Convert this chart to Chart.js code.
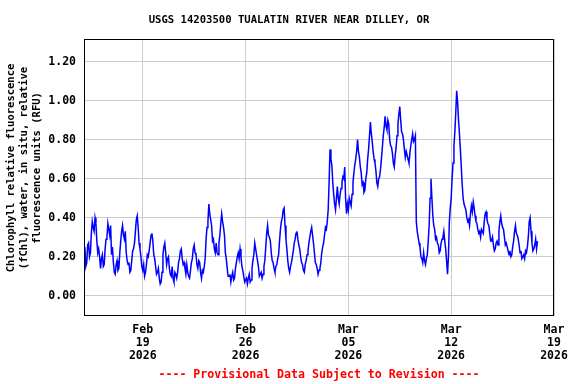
<!DOCTYPE html>
<html><head><meta charset="utf-8">
<script src="https://cdn.jsdelivr.net/npm/chart.js@4"></script>
<style>html,body{margin:0;padding:0;background:#fff}canvas{display:block}</style>
</head><body>
<canvas id="c" width="576" height="384"></canvas>
<script>
const titleText = 'USGS 14203500 TUALATIN RIVER NEAR DILLEY, OR';
const yTitleLines = ['Chlorophyll relative fluorescence', '(fChl), water, in situ, relative', 'fluorescence units (RFU)'];
const footerText = '---- Provisional Data Subject to Revision ----';

// x axis: days since Feb 15 2026 00:00
const axisDays = [0, 32];
const stepHours = 1.5;
const xTickDays = [4, 11, 18, 25, 32];
const xTickLabels = [['Feb','19','2026'], ['Feb','26','2026'], ['Mar','05','2026'], ['Mar','12','2026'], ['Mar','19','2026']];
const yTicks = [0, 0.2, 0.4, 0.6, 0.8, 1.0, 1.2];
const yRange = [-0.104, 1.316];

// Chlorophyll RFU, every 1.5 h from Feb 15 2026 00:00 (one row per day)
const rfu = [
  0.22,0.25,0.15,0.17,0.26,0.27,0.20,0.22,0.32,0.38,0.35,0.33,0.40,0.37,0.28,0.22,
  0.24,0.20,0.14,0.19,0.21,0.15,0.16,0.24,0.29,0.30,0.37,0.34,0.31,0.36,0.21,0.25,
  0.17,0.12,0.11,0.16,0.18,0.13,0.14,0.22,0.28,0.33,0.36,0.31,0.29,0.33,0.22,0.18,
  0.16,0.17,0.12,0.13,0.18,0.23,0.24,0.27,0.33,0.39,0.41,0.35,0.27,0.24,0.20,0.15,
  0.13,0.16,0.10,0.12,0.16,0.21,0.20,0.23,0.27,0.31,0.32,0.28,0.21,0.19,0.15,0.11,
  0.12,0.14,0.09,0.06,0.07,0.12,0.21,0.25,0.27,0.22,0.16,0.19,0.20,0.14,0.11,0.10,
  0.15,0.09,0.07,0.12,0.11,0.09,0.12,0.17,0.19,0.23,0.24,0.19,0.16,0.17,0.14,0.11,
  0.16,0.12,0.10,0.09,0.13,0.17,0.19,0.24,0.26,0.22,0.21,0.16,0.14,0.18,0.17,0.12,
  0.09,0.13,0.12,0.15,0.19,0.29,0.35,0.38,0.47,0.42,0.39,0.36,0.28,0.29,0.24,0.22,
  0.27,0.22,0.21,0.27,0.31,0.37,0.42,0.38,0.35,0.31,0.22,0.19,0.14,0.10,0.10,0.11,
  0.07,0.10,0.12,0.08,0.09,0.14,0.17,0.20,0.22,0.19,0.24,0.20,0.15,0.13,0.10,0.07,
  0.08,0.09,0.06,0.09,0.11,0.07,0.08,0.14,0.18,0.21,0.27,0.24,0.21,0.18,0.15,0.10,
  0.11,0.12,0.09,0.11,0.15,0.18,0.25,0.32,0.36,0.31,0.30,0.28,0.22,0.18,0.17,0.14,
  0.12,0.15,0.16,0.19,0.21,0.28,0.34,0.38,0.40,0.44,0.45,0.36,0.29,0.24,0.18,0.14,
  0.12,0.15,0.17,0.20,0.23,0.27,0.29,0.32,0.33,0.29,0.26,0.24,0.20,0.17,0.16,0.13,
  0.12,0.16,0.18,0.21,0.23,0.27,0.30,0.33,0.35,0.31,0.27,0.22,0.17,0.16,0.14,0.11,
  0.13,0.14,0.17,0.22,0.25,0.27,0.31,0.35,0.34,0.38,0.44,0.58,0.75,0.70,0.67,0.58,
  0.52,0.47,0.44,0.50,0.56,0.50,0.47,0.52,0.55,0.58,0.61,0.60,0.66,0.50,0.42,0.47,
  0.44,0.50,0.48,0.46,0.52,0.58,0.63,0.67,0.70,0.74,0.80,0.74,0.71,0.66,0.63,0.57,
  0.58,0.53,0.54,0.60,0.63,0.70,0.75,0.82,0.89,0.83,0.79,0.74,0.70,0.68,0.64,0.58,
  0.56,0.60,0.61,0.65,0.70,0.76,0.82,0.86,0.92,0.87,0.85,0.90,0.88,0.80,0.77,0.76,
  0.73,0.68,0.66,0.72,0.76,0.82,0.88,0.93,0.97,0.90,0.84,0.83,0.80,0.75,0.71,0.74,
  0.72,0.70,0.68,0.73,0.77,0.80,0.83,0.79,0.80,0.82,0.38,0.33,0.30,0.27,0.25,0.20,
  0.19,0.17,0.22,0.18,0.16,0.19,0.21,0.28,0.36,0.50,0.60,0.50,0.41,0.36,0.34,0.29,
  0.30,0.27,0.26,0.22,0.23,0.27,0.29,0.30,0.33,0.28,0.24,0.18,0.11,0.20,0.38,0.45,
  0.50,0.60,0.68,0.77,0.84,0.94,1.05,0.99,0.90,0.83,0.75,0.66,0.57,0.50,0.47,0.47,
  0.44,0.40,0.38,0.39,0.36,0.42,0.46,0.43,0.48,0.45,0.41,0.38,0.37,0.34,0.32,0.33,
  0.30,0.34,0.33,0.32,0.38,0.42,0.43,0.39,0.37,0.36,0.32,0.28,0.28,0.30,0.26,0.23,
  0.24,0.27,0.28,0.26,0.33,0.38,0.41,0.37,0.35,0.34,0.30,0.26,0.27,0.25,0.23,0.21,
  0.23,0.20,0.21,0.25,0.28,0.33,0.36,0.32,0.31,0.29,0.26,0.22,0.23,0.19,0.20,0.21,
  0.19,0.23,0.22,0.25,0.30,0.38,0.40,0.33,0.27,0.23,0.24,0.26,0.29,0.24,0.28
];

const FONT = "'DejaVu Sans Mono', 'Liberation Mono', monospace";
const points = rfu.map((v, i) => ({ x: i * stepHours / 24, y: v }));

const decor = {
  id: 'decor',
  afterDraw(chart) {
    const ctx = chart.ctx, a = chart.chartArea;
    ctx.save();
    ctx.strokeStyle = '#000';
    ctx.lineWidth = 1;
    ctx.strokeRect(Math.round(a.left) + 0.5, Math.round(a.top) + 0.5, Math.round(a.right - a.left) - 1, Math.round(a.bottom - a.top) - 1);
    ctx.fillStyle = '#000';
    ctx.textAlign = 'center';
    ctx.textBaseline = 'middle';
    ctx.font = "bold 10.6px " + FONT;
    ctx.fillText(titleText, 289, 20);
    const xs = [11, 24, 37];
    for (let k = 0; k < yTitleLines.length; k++) {
      ctx.save();
      ctx.translate(xs[k], 168);
      ctx.rotate(-Math.PI / 2);
      ctx.font = "bold 10.5px " + FONT;
      ctx.fillText(yTitleLines[k], 0, 0);
      ctx.restore();
    }
    ctx.fillStyle = '#ff0000';
    ctx.font = "bold 11.6px " + FONT;
    ctx.fillText(footerText, (a.left + a.right) / 2, 375);
    ctx.restore();
  }
};

new Chart(document.getElementById('c'), {
  type: 'line',
  data: { datasets: [{ data: points, borderColor: '#0000ff', borderWidth: 1.5, pointRadius: 0, tension: 0, fill: false }] },
  options: {
    responsive: false, animation: false, devicePixelRatio: 1,
    layout: { padding: { top: 39, right: 22, left: 0, bottom: 0 } },
    plugins: { legend: { display: false }, tooltip: { enabled: false }, title: { display: false } },
    scales: {
      x: {
        type: 'linear', min: axisDays[0], max: axisDays[1],
        afterBuildTicks: s => { s.ticks = xTickDays.map(v => ({ value: v })); },
        afterFit: s => { s.height = 68; },
        ticks: {
          autoSkip: false, maxRotation: 0, minRotation: 0, padding: 8, color: '#000',
          font: { family: FONT, size: 11.5, weight: 'bold', lineHeight: 1.1 },
          callback: v => xTickLabels[xTickDays.indexOf(v)]
        },
        grid: { color: '#cccccc', drawTicks: false },
        border: { display: false }
      },
      y: {
        min: yRange[0], max: yRange[1],
        afterBuildTicks: s => { s.ticks = yTicks.map(v => ({ value: v })); },
        afterFit: s => { s.width = 84; },
        ticks: {
          padding: 8, color: '#000',
          font: { family: FONT, size: 11.5, weight: 'bold' },
          callback: v => Number(v).toFixed(2)
        },
        grid: { color: '#cccccc', drawTicks: false },
        border: { display: false }
      }
    }
  },
  plugins: [decor]
});
</script>
</body></html>
